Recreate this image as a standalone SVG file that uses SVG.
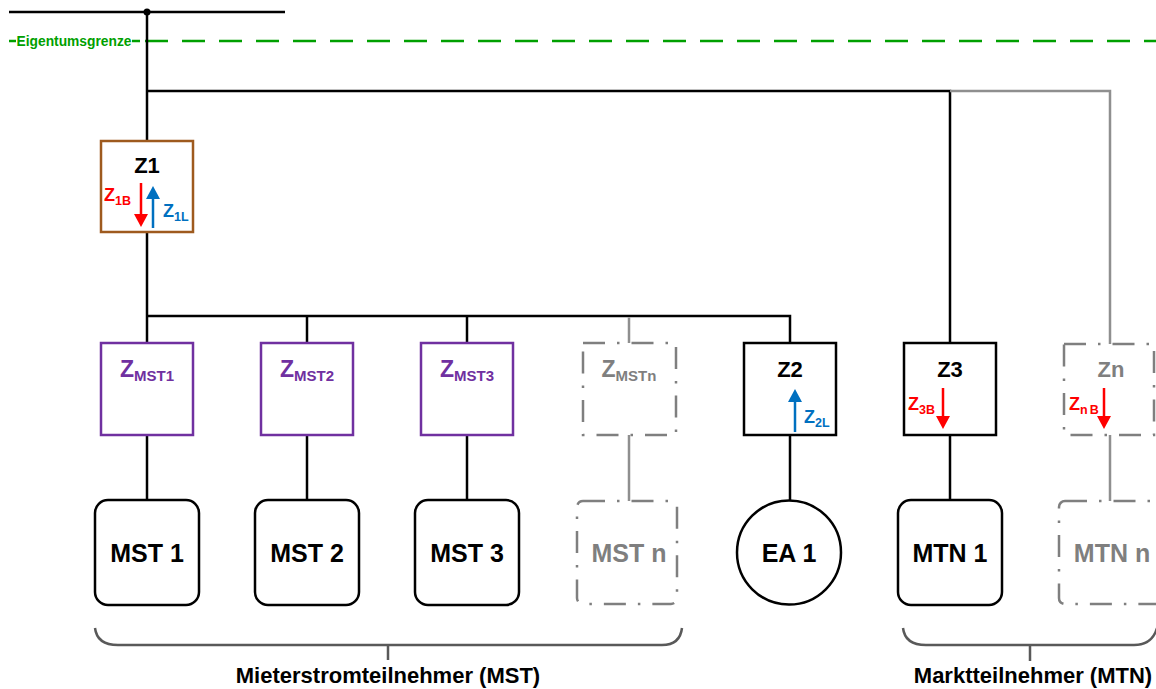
<svg xmlns="http://www.w3.org/2000/svg" width="1156" height="689" viewBox="0 0 1156 689">
  <defs>
    <style>
      .wire { stroke: #000; stroke-width: 2.5; fill: none; }
      .wire-gray { stroke: #8f8f8f; stroke-width: 2.5; fill: none; }
      .box { fill: #fff; stroke: #000; stroke-width: 2.5; }
      .box-z1 { fill: #fff; stroke: #9e5a1e; stroke-width: 2.5; }
      .box-mst { fill: #fff; stroke: #7030a0; stroke-width: 2.5; }
      .box-ghost { fill: #fff; stroke: #7f7f7f; stroke-width: 2.5; stroke-dasharray: 22 12 2.5 12; }
      .brace { stroke: #595959; stroke-width: 2.5; fill: none; }
      .boundary { stroke: #00a000; stroke-width: 2.5; fill: none; }
      text { font-family: "Liberation Sans", Arial, sans-serif; font-weight: bold; }
      .lbl { font-size: 25px; fill: #000; text-anchor: middle; }
      .lbl-ghost { font-size: 25px; fill: #7f7f7f; text-anchor: middle; }
      .meter { font-size: 22px; fill: #000; text-anchor: middle; }
      .meter-ghost { font-size: 22px; fill: #7f7f7f; text-anchor: middle; }
      .meter-mst { font-size: 23px; fill: #7030a0; text-anchor: middle; }
      .meter-mst-ghost { font-size: 23px; fill: #7f7f7f; text-anchor: middle; }
      .flow-b { font-size: 18px; fill: #ff0000; }
      .flow-l { font-size: 18px; fill: #0070c0; }
      .sub { font-size: 12.5px; }
      .sub-mst { font-size: 15px; }
      .group { font-size: 22px; fill: #000; text-anchor: middle; }
      .arrow-b { stroke: #ff0000; stroke-width: 2.5; fill: none; }
      .arrow-l { stroke: #0070c0; stroke-width: 2.5; fill: none; }
    </style>
  </defs>

  <rect width="1156" height="689" fill="#fff"/>

  <!-- ownership boundary -->
  <g id="eigentumsgrenze">
    <line class="boundary" x1="9" y1="41" x2="16" y2="41"/>
    <line class="boundary" x1="132" y1="41" x2="140" y2="41"/>
    <line class="boundary" x1="145" y1="41" x2="1156" y2="41" stroke-dasharray="23 14"/>
    <text x="74" y="46" font-size="13.8" fill="#00a000" text-anchor="middle">Eigentumsgrenze</text>
  </g>

  <!-- connectors -->
  <g id="connectors">
    <line class="wire" x1="9" y1="12" x2="285" y2="12"/>
    <circle cx="147" cy="12" r="3.5" fill="#000"/>
    <line class="wire" x1="147" y1="12" x2="147" y2="141"/>
    <polyline class="wire" points="147,91 950,91 950,343"/>
    <polyline class="wire-gray" points="950,91 1110,91 1110,344"/>
    <line class="wire" x1="147" y1="232" x2="147" y2="343"/>
    <polyline class="wire" points="147,316 790,316 790,343"/>
    <line class="wire" x1="307" y1="316" x2="307" y2="343"/>
    <line class="wire" x1="467" y1="316" x2="467" y2="343"/>
    <line class="wire-gray" x1="629" y1="317.5" x2="629" y2="343"/>
    <line class="wire" x1="147" y1="435" x2="147" y2="500"/>
    <line class="wire" x1="307" y1="435" x2="307" y2="500"/>
    <line class="wire" x1="467" y1="435" x2="467" y2="500"/>
    <line class="wire-gray" x1="629" y1="435" x2="629" y2="501"/>
    <line class="wire" x1="790" y1="435" x2="790" y2="500"/>
    <line class="wire" x1="950" y1="435" x2="950" y2="500"/>
    <line class="wire-gray" x1="1110" y1="435" x2="1110" y2="501"/>
  </g>

  <!-- main meter Z1 -->
  <g id="z1">
    <rect class="box-z1" x="101" y="141" width="92" height="91"/>
    <text class="meter" x="147" y="173" font-size="21">Z1</text>
    <line class="arrow-b" x1="141" y1="183" x2="141" y2="216"/>
    <polygon points="134,214 148,214 141,227" fill="#ff0000"/>
    <line class="arrow-l" x1="153" y1="228" x2="153" y2="197"/>
    <polygon points="146,199 160,199 153,186" fill="#0070c0"/>
    <text class="flow-b" x="104" y="201">Z<tspan class="sub" dy="4">1B</tspan></text>
    <text class="flow-l" x="163" y="217">Z<tspan class="sub" dy="4">1L</tspan></text>
  </g>

  <!-- tenant power meters -->
  <g id="z-mst1">
    <rect class="box-mst" x="101" y="343" width="92" height="92"/>
    <text class="meter-mst" x="147" y="377">Z<tspan class="sub-mst" dy="4">MST1</tspan></text>
  </g>
  <g id="z-mst2">
    <rect class="box-mst" x="261" y="343" width="92" height="92"/>
    <text class="meter-mst" x="307" y="377">Z<tspan class="sub-mst" dy="4">MST2</tspan></text>
  </g>
  <g id="z-mst3">
    <rect class="box-mst" x="421" y="343" width="92" height="92"/>
    <text class="meter-mst" x="467" y="377">Z<tspan class="sub-mst" dy="4">MST3</tspan></text>
  </g>
  <g id="z-mstn">
    <rect class="box-ghost" x="583" y="343" width="93" height="92"/>
    <text class="meter-mst-ghost" x="629" y="377">Z<tspan class="sub-mst" dy="4">MSTn</tspan></text>
  </g>

  <!-- generation meter Z2 -->
  <g id="z2">
    <rect class="box" x="744" y="343" width="92" height="92"/>
    <text class="meter" x="790" y="377">Z2</text>
    <line class="arrow-l" x1="795" y1="432" x2="795" y2="400"/>
    <polygon points="788,402 802,402 795,389" fill="#0070c0"/>
    <text class="flow-l" x="804" y="423">Z<tspan class="sub" dy="4">2L</tspan></text>
  </g>

  <!-- market participant meters -->
  <g id="z3">
    <rect class="box" x="904" y="343" width="92" height="92"/>
    <text class="meter" x="950" y="377">Z3</text>
    <line class="arrow-b" x1="943" y1="388" x2="943" y2="418"/>
    <polygon points="936,416 950,416 943,429" fill="#ff0000"/>
    <text class="flow-b" x="908" y="410">Z<tspan class="sub" dy="4">3B</tspan></text>
  </g>
  <g id="zn">
    <rect class="box-ghost" x="1064" y="344" width="90" height="91"/>
    <text class="meter-ghost" x="1111" y="377">Zn</text>
    <line class="arrow-b" x1="1104" y1="388" x2="1104" y2="418"/>
    <polygon points="1097,416 1111,416 1104,429" fill="#ff0000"/>
    <text class="flow-b" x="1069" y="410">Z<tspan class="sub" dy="4">n</tspan><tspan class="sub" dx="2">B</tspan></text>
  </g>

  <!-- consumers and generation -->
  <g id="mst1">
    <rect class="box" x="95" y="500" width="104" height="105" rx="13"/>
    <text class="lbl" x="147" y="562">MST 1</text>
  </g>
  <g id="mst2">
    <rect class="box" x="255" y="500" width="104" height="105" rx="13"/>
    <text class="lbl" x="307" y="562">MST 2</text>
  </g>
  <g id="mst3">
    <rect class="box" x="415" y="500" width="104" height="105" rx="13"/>
    <text class="lbl" x="467" y="562">MST 3</text>
  </g>
  <g id="mstn">
    <rect class="box-ghost" x="577" y="501" width="100" height="103" rx="6"/>
    <text class="lbl-ghost" x="629" y="562">MST n</text>
  </g>
  <g id="ea1">
    <circle cx="789" cy="552.5" r="52" fill="#fff" stroke="#000" stroke-width="2.5"/>
    <text class="lbl" x="789" y="562">EA 1</text>
  </g>
  <g id="mtn1">
    <rect class="box" x="898" y="500" width="104" height="105" rx="13"/>
    <text class="lbl" x="950" y="562">MTN 1</text>
  </g>
  <g id="mtnn">
    <rect class="box-ghost" x="1059" y="501" width="102" height="103" rx="6"/>
    <text class="lbl-ghost" x="1112" y="562">MTN n</text>
  </g>

  <!-- groupings -->
  <g id="brace-mst">
    <path class="brace" d="M95,628 Q97,645 118,645 L662,645 Q680,645 682,628 M388,645 L388,660"/>
    <text class="group" x="388" y="683">Mieterstromteilnehmer (MST)</text>
  </g>
  <g id="brace-mtn">
    <path class="brace" d="M903,628 Q905,645 926,645 L1134,645 Q1152,645 1157,628 M1030,645 L1030,661"/>
    <text class="group" x="1033" y="683">Marktteilnehmer (MTN)</text>
  </g>
</svg>
